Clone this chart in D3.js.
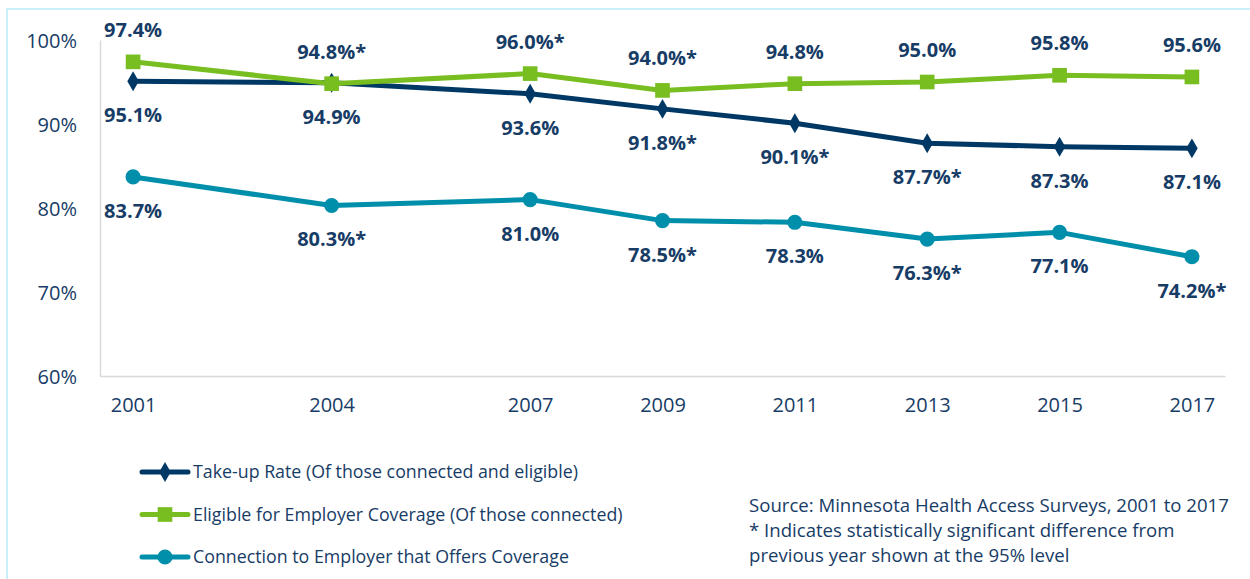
<!DOCTYPE html>
<html>
<head>
<meta charset="utf-8">
<script src="https://cdn.jsdelivr.net/npm/d3@7"></script>
<style>
  body { margin: 0; background: #fff; }
  svg text { font-family: "Open Sans", sans-serif; }
  .tick text { fill: #173c66; font-size: 20px; font-family: "Open Sans", sans-serif; }
  .domain { stroke: #d9d9d9; stroke-width: 1.5px; }
  .label { fill: #173c66; font-size: 20px; font-weight: bold; text-anchor: middle; }
  .legend text { fill: #173c66; font-size: 17.8px; }
  .note text { fill: #173c66; font-size: 18.6px; }
</style>
</head>
<body>
<div class="chart"></div>
<script>
const years = [2001, 2004, 2007, 2009, 2011, 2013, 2015, 2017];
const yTicks = [60, 70, 80, 90, 100];

// values in percent, sig = marked with * (different from previous year)
const takeUp = [95.1, 94.9, 93.6, 91.8, 90.1, 87.7, 87.3, 87.1];
const takeUpSig = [0, 0, 0, 1, 1, 1, 0, 0];
const eligible = [97.4, 94.8, 96.0, 94.0, 94.8, 95.0, 95.8, 95.6];
const eligibleSig = [0, 1, 1, 1, 0, 0, 0, 0];
const connection = [83.7, 80.3, 81.0, 78.5, 78.3, 76.3, 77.1, 74.2];
const connectionSig = [0, 1, 0, 1, 0, 1, 0, 1];

const seriesNames = [
  'Take-up Rate (Of those connected and eligible)',
  'Eligible for Employer Coverage (Of those connected)',
  'Connection to Employer that Offers Coverage'
];

const noteLines = [
  'Source: Minnesota Health Access Surveys, 2001 to 2017',
  '* Indicates statistically significant difference from',
  'previous year shown at the 95% level'
];

const width = 1250;
const height = 579;

const series = [
  { name: seriesNames[0], values: takeUp, sig: takeUpSig, color: '#003865', marker: d3.symbolDiamond, size: 115, labelDy: 34 },
  { name: seriesNames[1], values: eligible, sig: eligibleSig, color: '#78be21', marker: d3.symbolSquare, size: 215, labelDy: -32 },
  { name: seriesNames[2], values: connection, sig: connectionSig, color: '#008fab', marker: d3.symbolCircle, size: 180, labelDy: 34 }
];

const svg = d3.select('.chart').append('svg')
  .attr('width', width)
  .attr('height', height)
  .style('display', 'block');

// outer frame
svg.append('rect')
  .attr('x', 7).attr('y', 9)
  .attr('width', width).attr('height', height)
  .attr('fill', 'none')
  .attr('stroke', '#c8effa')
  .attr('stroke-width', 2);

const x = d3.scaleLinear().domain([2000.5, 2017.5]).range([100, 1225]);
const y = d3.scaleLinear().domain([60, 100]).range([376, 40]);

svg.append('g')
  .attr('transform', 'translate(100,0)')
  .call(d3.axisLeft(y).tickValues(yTicks).tickSize(0).tickPadding(23).tickFormat(d => d + '%'))
  .call(g => g.selectAll('.tick text').attr('dy', '0.35em'));

svg.append('g')
  .attr('transform', 'translate(0,376)')
  .call(d3.axisBottom(x).tickValues(years).tickSize(0).tickPadding(22).tickFormat(d3.format('d')));

svg.selectAll('.tick line').remove();

const line = d3.line()
  .x((d, i) => x(years[i]))
  .y(d => y(d));

// draw connection first, then take-up, then eligible on top
[series[2], series[0], series[1]].forEach(s => {
  const g = svg.append('g');
  g.append('path')
    .datum(s.values)
    .attr('d', line)
    .attr('fill', 'none')
    .attr('stroke', s.color)
    .attr('stroke-width', 5)
    .attr('stroke-linejoin', 'round');

  g.selectAll('.marker')
    .data(s.values)
    .enter()
    .append('path')
    .attr('class', 'marker')
    .attr('d', d3.symbol().type(s.marker).size(s.size))
    .attr('transform', (d, i) => `translate(${x(years[i])},${y(d)})`)
    .attr('fill', s.color);
});

series.forEach(s => {
  svg.selectAll(null)
    .data(s.values)
    .enter()
    .append('text')
    .attr('class', 'label')
    .attr('x', (d, i) => x(years[i]))
    .attr('y', d => y(d) + s.labelDy)
    .attr('dy', '0.35em')
    .text((d, i) => d.toFixed(1) + '%' + (s.sig[i] ? '*' : ''));
});

// legend
const legend = svg.append('g').attr('class', 'legend');
series.forEach((s, i) => {
  const ly = 472 + i * 42.5;
  legend.append('line')
    .attr('x1', 142).attr('x2', 188)
    .attr('y1', ly).attr('y2', ly)
    .attr('stroke', s.color)
    .attr('stroke-width', 5)
    .attr('stroke-linecap', 'round');
  legend.append('path')
    .attr('d', d3.symbol().type(s.marker).size(s.size))
    .attr('transform', `translate(165,${ly})`)
    .attr('fill', s.color);
  legend.append('text')
    .attr('x', 193)
    .attr('y', ly)
    .attr('dy', '0.35em')
    .text(s.name);
});

// source note
const note = svg.append('g').attr('class', 'note');
noteLines.forEach((t, i) => {
  note.append('text')
    .attr('x', 749)
    .attr('y', 505 + i * 25)
    .attr('dy', '0.35em')
    .text(t);
});
</script>
</body>
</html>
